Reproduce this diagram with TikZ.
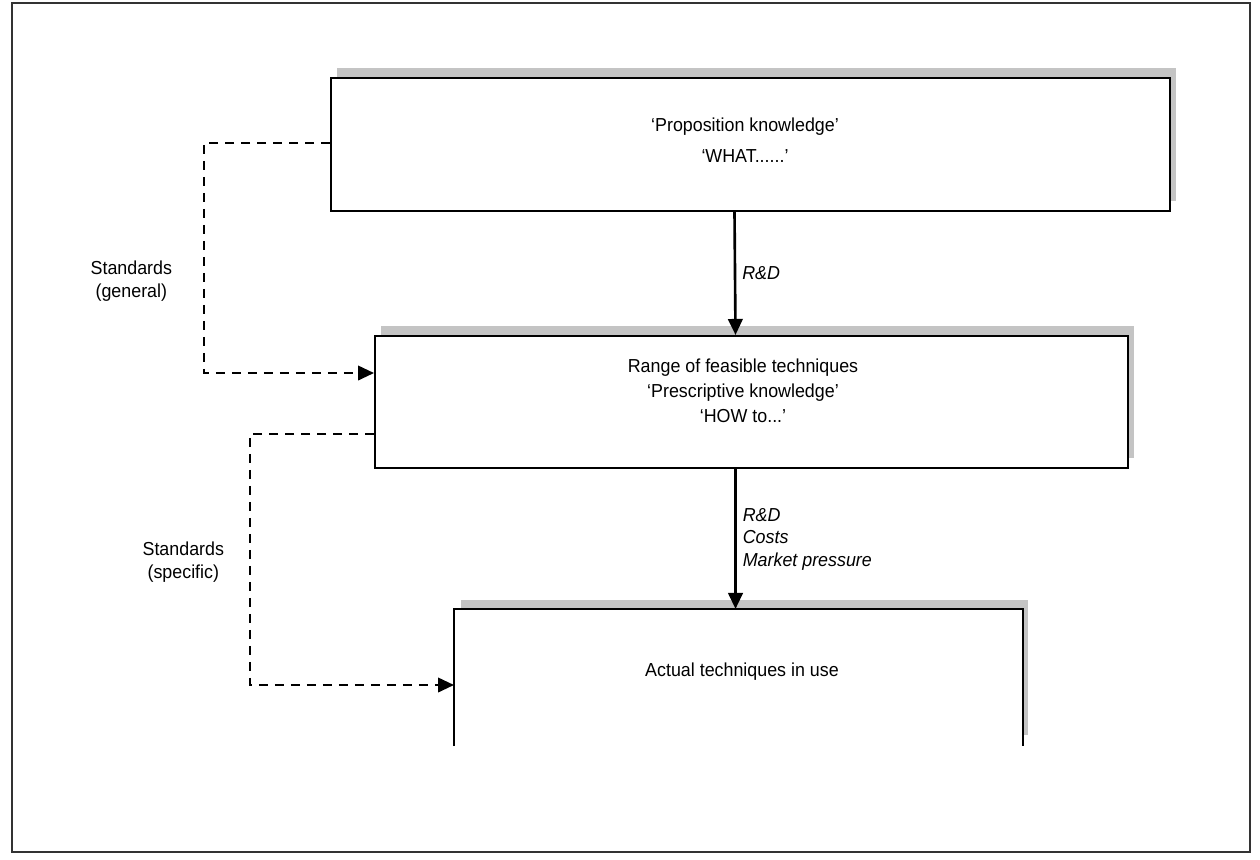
\documentclass[tikz,border=0pt]{standalone}
\usepackage{fontspec}
\setmainfont{Liberation Sans}[FakeStretch=0.95]
\usetikzlibrary{arrows.meta, positioning, shadows}
\definecolor{figshade}{RGB}{196,196,196}
\tikzstyle{knowbox} = [rectangle, draw=black, line width=1.2pt, fill=white,
drop shadow={shadow xshift=0.12cm, shadow yshift=0.2cm, fill=figshade, opacity=1}]
\tikzstyle{boxtext} = [align=center, inner sep=0pt,
font=\fontsize{10.7}{14.2}\selectfont]
\tikzstyle{sidetext} = [align=center, font=\fontsize{10.7}{13}\selectfont]
\tikzstyle{arrow} = [-{Triangle[length=3.2mm, width=2.9mm]}, line width=1.5pt]
\tikzstyle{stdarrow} = [-{Triangle[length=3.2mm, width=2.9mm]}, line width=1.3pt,
dash pattern=on 1.8mm off 1.4mm]

\begin{document}
\begin{tikzpicture}[x=0.02cm, y=-0.02cm]
    \useasboundingbox (0,0) rectangle (1260,859);
    \draw[gray!40!black, line width=0.7pt] (12,3) rectangle (1250,852);

    \node (prop) [knowbox, minimum width=16.78cm, minimum height=2.66cm]
    at (750.5,144.5) {};
    \node (range) [knowbox, minimum width=15.06cm, minimum height=2.64cm]
    at (751.5,402) {};
    \node (actual) [knowbox, draw=none, minimum width=11.34cm,
    minimum height=2.7cm] at (738.5,677.5) {};
    \draw[line width=1.2pt] (actual.south west) -- (actual.north west)
    -- (actual.north east) -- (actual.south east);

    \node (proptext) [boxtext] at (745,140)
    {`Proposition knowledge'\\[3.4pt] `WHAT......'};
    \node (rangetext) [boxtext] at (743,391)
    {Range of feasible techniques\\ `Prescriptive knowledge'\\ `HOW to...'};
    \node (actualtext) [boxtext] at (742,672) {Actual techniques in use};

    \draw[arrow] ([xshift=-0.32cm]prop.south) --
    node[right=0.12cm, boxtext, font=\fontsize{10.7}{14.2}\selectfont\itshape]
    {R\&D} ([xshift=-0.32cm]range.north);
    \draw[arrow] ([xshift=-0.32cm]range.south) --
    node[right=0.12cm, boxtext, align=left,
    font=\fontsize{10.7}{12.8}\selectfont\itshape]
    {R\&D\\ Costs\\ Market pressure} ([xshift=-0.32cm]range.south |- actual.north);

    \draw[stdarrow] ([yshift=0.03cm]prop.west) -- ++(-126,0)
    |- node[pos=0.3, left=0.5cm, sidetext] {Standards\\(general)}
    ([yshift=0.58cm]range.west);
    \draw[stdarrow] ([yshift=-0.64cm]range.west) -- ++(-124,0)
    |- node[pos=0.255, left=0.38cm, sidetext] {Standards\\(specific)}
    ([yshift=-0.15cm]actual.west);
\end{tikzpicture}
\end{document}
